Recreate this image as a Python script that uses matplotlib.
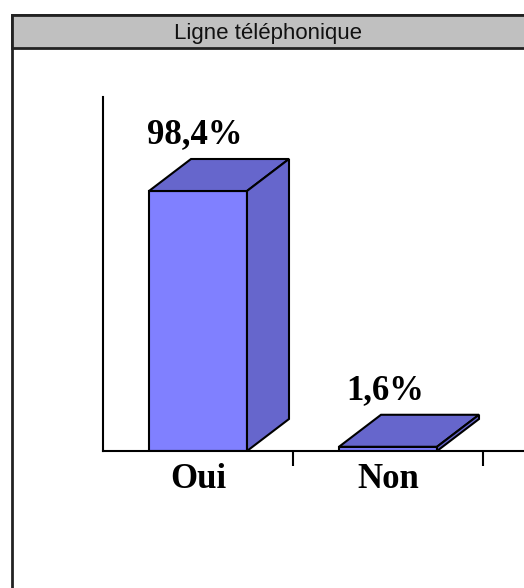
import matplotlib
matplotlib.use("Agg")
import matplotlib.pyplot as plt
from matplotlib.patches import Polygon, Rectangle

# data
title = "Ligne téléphonique"
categories = ["Oui", "Non"]
values = [98.4, 1.6]
value_labels = ["98,4%", "1,6%"]

W, H = 524, 588
front_color = "#8080FF"
shade_color = "#6666CC"

fig = plt.figure(figsize=(W / 100, H / 100), dpi=100)

# background frame + grey title strip, in pixel coords
bg = fig.add_axes([0, 0, 1, 1])
bg.set_xlim(0, W)
bg.set_ylim(H, 0)
bg.axis("off")
bg.add_patch(Rectangle((11.5, 15), W + 20, H, facecolor="white",
                       edgecolor="#222222", lw=2))
bg.add_patch(Rectangle((11.5, 15), W + 20, 33, facecolor="#C0C0C0",
                       edgecolor="#222222", lw=2))
bg.text(268, 33, title, ha="center", va="center", fontsize=16,
        family="Liberation Sans", color="#111111")

# plot area: y axis at x=103px, x axis at y=451px
left, base, top = 103, 451, 97
ax = fig.add_axes([left / W, (H - base) / H, 1 - left / W, (base - top) / H])
ax.patch.set_alpha(0)

px_x = 190.0                      # pixels per category
px_y = (base - 191) / values[0]   # pixels per percent
ax.set_xlim(0, (W - left) / px_x)
ax.set_ylim(0, (base - top) / px_y)

bar_w = 98 / px_x
dx = 42 / px_x
dy = 32 / px_y

for i, v in enumerate(values):
    x0 = i + 0.5 - bar_w / 2
    x1 = x0 + bar_w
    ax.add_patch(Polygon([(x0, 0), (x1, 0), (x1, v), (x0, v)],
                         facecolor=front_color, edgecolor="black", lw=1.5))
    ax.add_patch(Polygon([(x0, v), (x1, v), (x1 + dx, v + dy), (x0 + dx, v + dy)],
                         facecolor=shade_color, edgecolor="black", lw=1.5))
    ax.add_patch(Polygon([(x1, 0), (x1 + dx, dy), (x1 + dx, v + dy), (x1, v)],
                         facecolor=shade_color, edgecolor="black", lw=1.5))
    ax.annotate(value_labels[i], (i + 0.5, v + dy), xytext=(-2, 11.5),
                textcoords="offset points", ha="center", va="baseline",
                fontsize=25, fontweight="bold", family="Liberation Serif")

for s in ["top", "right"]:
    ax.spines[s].set_visible(False)
for s in ["left", "bottom"]:
    ax.spines[s].set_linewidth(1.5)
ax.set_yticks([])
ax.set_xticks([1, 2], labels=["", ""])
ax.tick_params(axis="x", which="major", length=11, width=1.5, direction="out")
ax.set_xticks([i + 0.5 for i in range(len(categories))], labels=categories, minor=True)
ax.tick_params(axis="x", which="minor", length=0, pad=9)
for lbl in ax.get_xticklabels(minor=True):
    lbl.set_fontsize(25)
    lbl.set_fontweight("bold")
    lbl.set_family("Liberation Serif")

fig.savefig("out.png", dpi=100)
